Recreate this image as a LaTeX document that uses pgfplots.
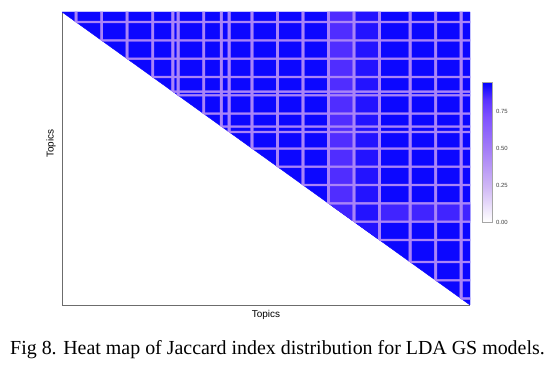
\documentclass[border=0pt]{standalone}
\usepackage{fontspec}
\setmainfont{Liberation Sans}
\newfontfamily\captionfont{Liberation Serif}
\usepackage{pgfplots}
\pgfplotsset{compat=1.18}
\usepgfplotslibrary{patchplots}

% topics with low Jaccard similarity give the light cross lines;
% each line is one column strip above the diagonal and one row strip right of it
% (y = 160 - topic index, so topic 0 is at the top)
\pgfplotstableread{
x y c
105 160 0.84
114 160 0.84
114 46 0.84
105 55 0.84
105 55 0.86
160 55 0.86
160 46 0.86
114 46 0.86
115 160 0.90
124 160 0.90
124 36 0.90
115 45 0.90
5 160 0.46
6 160 0.46
6 154 0.46
5 155 0.46
5 155 0.46
160 155 0.46
160 154 0.46
6 154 0.46
15 160 0.46
16 160 0.46
16 144 0.46
15 145 0.46
15 145 0.46
160 145 0.46
160 144 0.46
16 144 0.46
25 160 0.46
26 160 0.46
26 134 0.46
25 135 0.46
25 135 0.46
160 135 0.46
160 134 0.46
26 134 0.46
35 160 0.46
36 160 0.46
36 124 0.46
35 125 0.46
35 125 0.46
160 125 0.46
160 124 0.46
36 124 0.46
43 160 0.46
44 160 0.46
44 116 0.46
43 117 0.46
43 117 0.46
160 117 0.46
160 116 0.46
44 116 0.46
45 160 0.46
46 160 0.46
46 114 0.46
45 115 0.46
45 115 0.46
160 115 0.46
160 114 0.46
46 114 0.46
55 160 0.46
56 160 0.46
56 104 0.46
55 105 0.46
55 105 0.46
160 105 0.46
160 104 0.46
56 104 0.46
62 160 0.46
63 160 0.46
63 97 0.46
62 98 0.46
62 98 0.46
160 98 0.46
160 97 0.46
63 97 0.46
65 160 0.46
66 160 0.46
66 94 0.46
65 95 0.46
65 95 0.46
160 95 0.46
160 94 0.46
66 94 0.46
74 160 0.46
75 160 0.46
75 85 0.46
74 86 0.46
74 86 0.46
160 86 0.46
160 85 0.46
75 85 0.46
84 160 0.46
85 160 0.46
85 75 0.46
84 76 0.46
84 76 0.46
160 76 0.46
160 75 0.46
85 75 0.46
94 160 0.46
95 160 0.46
95 65 0.46
94 66 0.46
94 66 0.46
160 66 0.46
160 65 0.46
95 65 0.46
104 160 0.46
105 160 0.46
105 55 0.46
104 56 0.46
104 56 0.46
160 56 0.46
160 55 0.46
105 55 0.46
114 160 0.46
115 160 0.46
115 45 0.46
114 46 0.46
114 46 0.46
160 46 0.46
160 45 0.46
115 45 0.46
124 160 0.46
125 160 0.46
125 35 0.46
124 36 0.46
124 36 0.46
160 36 0.46
160 35 0.46
125 35 0.46
136 160 0.46
137 160 0.46
137 23 0.46
136 24 0.46
136 24 0.46
160 24 0.46
160 23 0.46
137 23 0.46
146 160 0.46
147 160 0.46
147 13 0.46
146 14 0.46
146 14 0.46
160 14 0.46
160 13 0.46
147 13 0.46
156 160 0.46
157 160 0.46
157 3 0.46
156 4 0.46
156 4 0.46
160 4 0.46
160 3 0.46
157 3 0.46
}\stripes

\begin{document}
\begin{tikzpicture}
\path[use as bounding box] (0,0) rectangle (552bp,377bp);
\begin{axis}[
    at={(62bp,72bp)}, anchor=south west,
    scale only axis, width=408bp, height=293bp,
    xmin=0, xmax=160, ymin=0, ymax=160,
    axis x line*=bottom, axis y line*=left,
    axis line style={gray!85!black, line width=0.6bp},
    xtick=\empty, ytick=\empty,
    xlabel={Topics}, ylabel={Topics},
    label style={font=\fontsize{10}{12}\selectfont},
    xlabel style={at={(axis description cs:0.5,0)}, anchor=north, inner sep=0pt, yshift=-5bp},
    ylabel style={at={(axis description cs:-0.015,0.55)}, anchor=south, inner sep=0pt},
    colormap={jac}{rgb255(0)=(255,255,255) rgb255(2)=(208,184,245) rgb255(4)=(167,129,247)
                   rgb255(6)=(126,81,255) rgb255(7)=(89,50,255) rgb255(8)=(0,0,255)},
    point meta min=0, point meta max=0.946,
    colorbar,
    colorbar style={
        at={(parent axis.north east)}, anchor=north west,
        xshift=4bp, yshift=-70bp,
        scale only axis, width=10bp, height=140bp,
        ytick={0,0.25,0.5,0.75},
        ytick style={draw=none},
        axis line style={gray!70, line width=0.4bp},
        yticklabel style={font=\fontsize{6}{7}\selectfont, text=gray!50!black,
            /pgf/number format/.cd, fixed, fixed zerofill, precision=2, assume math mode=true},
    },
]
% upper triangle of the similarity matrix
\addplot[patch, shader=flat] table[point meta=\thisrow{c}] {
x y c
0 160 0.93
160 160 0.93
160 0 0.93
};
% lighter bands and low-similarity topic lines
\addplot[patch, patch type=rectangle, shader=flat] table[point meta=\thisrow{c}] {\stripes};
\end{axis}
\node[font=\captionfont\fontsize{20}{24}\selectfont, anchor=base] at (277.5bp,23bp)
    {Fig 8. Heat map of Jaccard index distribution for LDA GS models.};
\end{tikzpicture}
\end{document}
